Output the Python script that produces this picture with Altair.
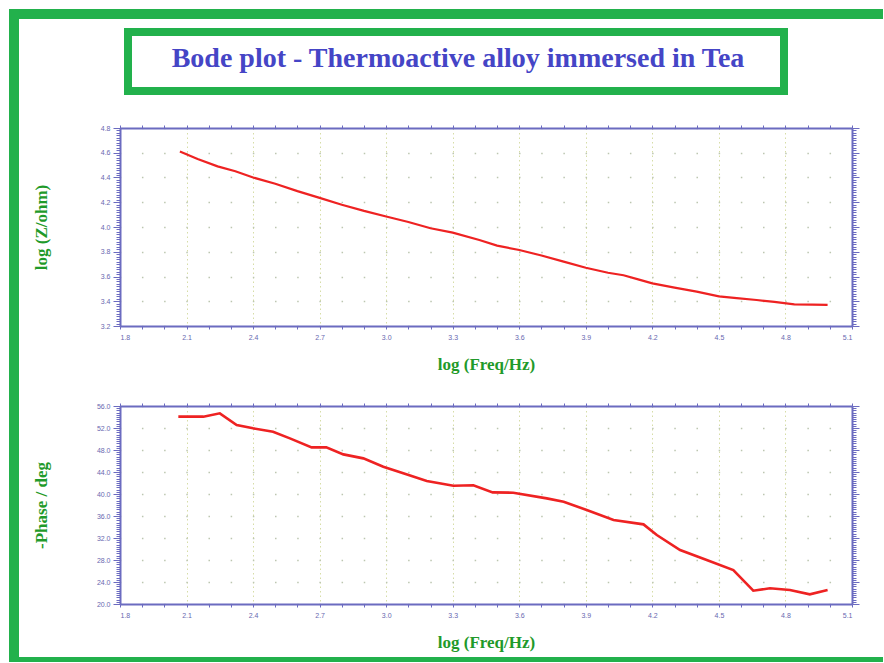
import altair as alt
import pandas as pd

# ---------------- data ----------------
freq_z = [2.07, 2.15, 2.24, 2.32, 2.40, 2.50, 2.60, 2.70, 2.80, 2.90, 3.00, 3.10,
          3.20, 3.30, 3.42, 3.50, 3.60, 3.70, 3.80, 3.90, 4.00, 4.07, 4.14, 4.20,
          4.30, 4.40, 4.50, 4.58, 4.67, 4.75, 4.84, 4.92, 4.99]
log_z = [4.61, 4.55, 4.49, 4.45, 4.40, 4.35, 4.29, 4.235, 4.18, 4.13, 4.085, 4.04,
         3.99, 3.955, 3.895, 3.85, 3.814, 3.77, 3.72, 3.671, 3.63, 3.61, 3.575, 3.545,
         3.51, 3.478, 3.44, 3.425, 3.41, 3.395, 3.375, 3.372, 3.37]

freq_p = [2.063, 2.176, 2.25, 2.326, 2.40, 2.49, 2.566, 2.664, 2.73, 2.807, 2.897,
          2.987, 3.077, 3.183, 3.303, 3.393, 3.48, 3.573, 3.724, 3.80, 3.904, 4.025,
          4.16, 4.22, 4.325, 4.445, 4.565, 4.655, 4.73, 4.82, 4.91, 4.99]
phase = [54.06, 54.06, 54.67, 52.55, 51.94, 51.33, 50.12, 48.48, 48.48, 47.2, 46.48,
         44.97, 43.76, 42.36, 41.5, 41.6, 40.3, 40.24, 39.2, 38.6, 37.09, 35.27,
         34.48, 32.55, 29.82, 28.0, 26.18, 22.42, 22.85, 22.55, 21.76, 22.55]

x_ticks = [round(1.8 + 0.1 * i, 1) for i in range(34)]
yz_ticks = [round(3.2 + 0.02 * i, 2) for i in range(81)]
yp_ticks = [round(20 + 0.4 * i, 1) for i in range(91)]

title_text = "Bode plot - Thermoactive alloy immersed in Tea"

# ---------------- styling ----------------
W, H = 732, 198
AX = "#6b6bc0"
LBL = "#6868b0"
GREEN_TXT = "#1f9a2a"
FRAME = "#22b14c"
RED = "#ee2222"
VGRID = "#d6dda6"
HGRID = "#bcc6b0"
STEP = W / 33.0  # pixels per 0.1 in x

X_MAJOR = "round((datum.value-1.8)*10) % 3 == 0"


def panel(df, yfield, ydomain, yticks, ymajor, yfmt, ytitle, decor=(), lw=2.2):
    xscale = alt.Scale(domain=[1.8, 5.1], nice=False, zero=False)
    yscale = alt.Scale(domain=ydomain, nice=False, zero=False)
    tick_cond = {"condition": {"test": ymajor, "value": 7}, "value": 4}

    line = alt.Chart(df).mark_line(color=RED, strokeWidth=lw).encode(
        x=alt.X("f:Q", scale=xscale, axis=alt.Axis(
            orient="bottom", values=x_ticks, format=".1f",
            labelExpr=f"{X_MAJOR} ? datum.label : ''",
            tickSize=3, labelPadding=4,
            grid=True, gridColor=VGRID, gridDash=[1.5, 3], gridWidth=1,
            gridOpacity={"condition": {"test": X_MAJOR, "value": 1}, "value": 0},
            title="log (Freq/Hz)", titleY=38, titleBaseline="middle",
        )),
        y=alt.Y(f"{yfield}:Q", scale=yscale, axis=alt.Axis(
            orient="left", values=yticks, format=yfmt,
            labelExpr=f"{ymajor} ? datum.label : ''",
            tickSize=tick_cond, labelPadding=3,
            grid=True, gridColor=HGRID, gridWidth=1.5,
            gridDash=[1.5, STEP - 1.5], gridDashOffset=0.75,
            gridOpacity={"condition": {"test": ymajor, "value": 1}, "value": 0},
            title=ytitle, titleX=-79, titleY=H / 2, titleBaseline="middle",
            titleAngle=270,
        )),
    )

    other = alt.Chart(df).mark_line(opacity=0).encode(
        x=alt.X("f:Q", scale=xscale, axis=alt.Axis(
            orient="top", values=x_ticks, labels=False, tickSize=3,
            grid=False, title=None)),
        y=alt.Y(f"{yfield}:Q", scale=yscale, axis=alt.Axis(
            orient="right", values=yticks, labels=False, tickSize=tick_cond,
            grid=False, title=None)),
    )

    return alt.layer(line, other, *decor).resolve_axis(
        x="independent", y="independent"
    ).properties(width=W, height=H)


one = pd.DataFrame({"d": [0]})
OX, OY = 120, 128  # page position of top plot origin


def band(x1, x2, y1, y2):
    return alt.Chart(one).mark_rect(color=FRAME).encode(
        x=alt.value(x1 - OX), x2=alt.value(x2 - OX),
        y=alt.value(y1 - OY), y2=alt.value(y2 - OY))


decor = [
    band(9, 883, 9, 19),      # outer frame top
    band(9, 19, 9, 662),      # outer frame left
    band(9, 883, 657, 662),   # outer frame bottom
    alt.Chart(one).mark_rect(fill="white", stroke=FRAME, strokeWidth=8).encode(
        x=alt.value(128 - OX), x2=alt.value(784 - OX),
        y=alt.value(32 - OY), y2=alt.value(91 - OY)),
    alt.Chart(one).mark_text(
        text=title_text, font="Liberation Serif", fontSize=28, fontWeight="bold",
        color="#4545c6", align="center", baseline="middle"
    ).encode(x=alt.value(458 - OX), y=alt.value(59 - OY)),
]

df_z = pd.DataFrame({"f": freq_z, "z": log_z})
df_p = pd.DataFrame({"f": freq_p, "p": phase})

top = panel(df_z, "z", [3.2, 4.8], yz_ticks,
            "round((datum.value-3.2)*50) % 10 == 0", ".1f", "log (Z/ohm)", decor)
bottom = panel(df_p, "p", [20, 56], yp_ticks,
               "round((datum.value-20)*2.5) % 10 == 0", ".1f", "-Phase / deg",
               lw=2.6)

chart = alt.vconcat(top, bottom, spacing=80, bounds="flush").properties(
    padding={"left": 9, "top": 9, "right": 0, "bottom": 0},
    background="white",
).configure_view(stroke=None).configure_axis(
    domainColor=AX, domainWidth=2, tickColor=AX, tickWidth=1,
    labelColor=LBL, labelFont="Liberation Sans", labelFontSize=7,
    titleColor=GREEN_TXT, titleFont="Liberation Serif", titleFontSize=17,
    titleFontWeight="bold",
)

chart.save("out.html", embed_options={"renderer": "svg", "actions": False})
